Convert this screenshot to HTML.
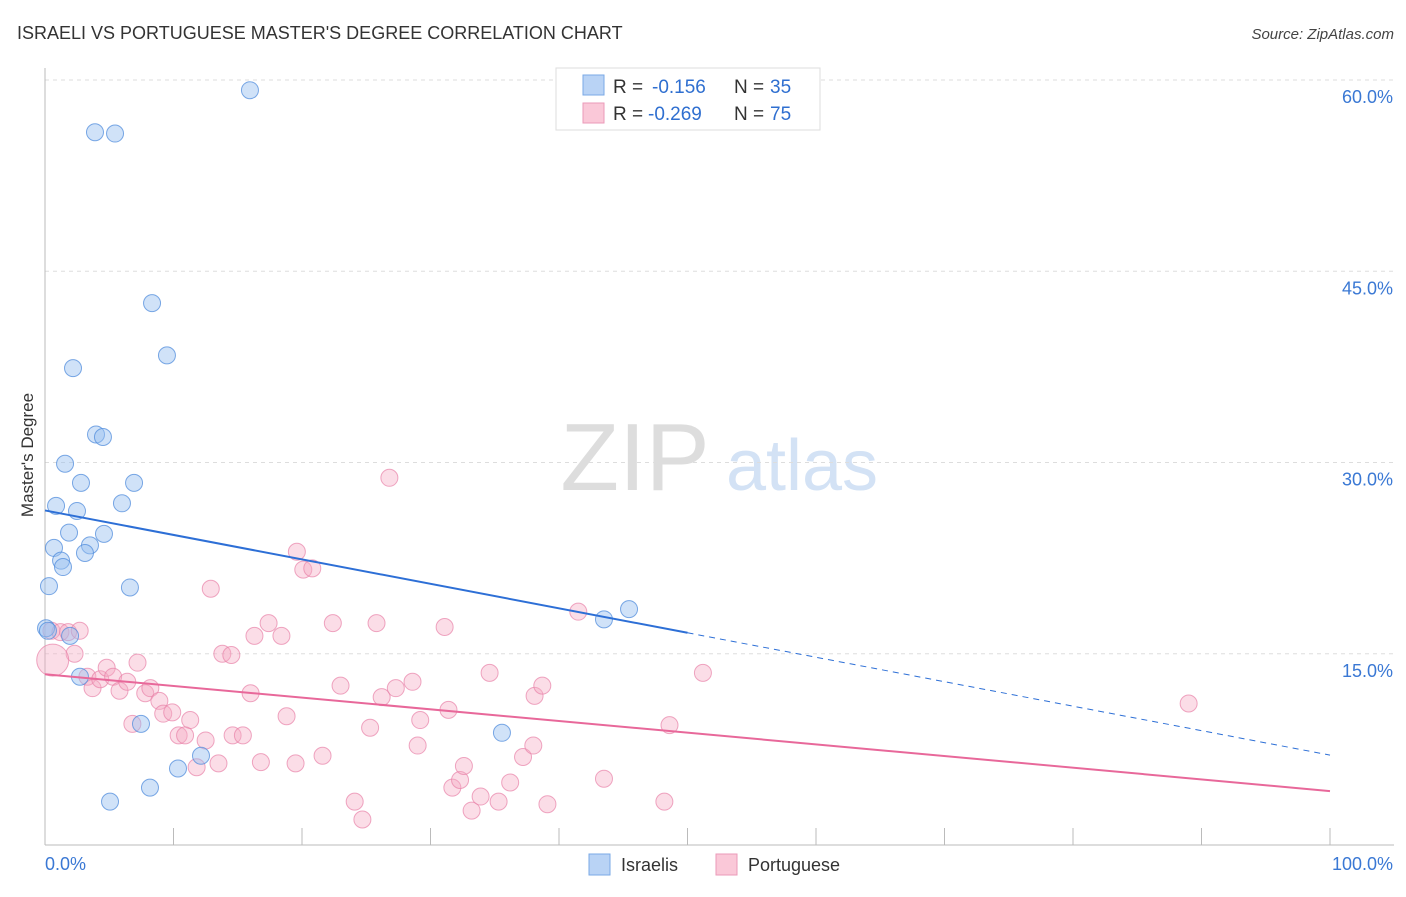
<!DOCTYPE html>
<html><head><meta charset="utf-8">
<style>
body{margin:0;background:#fff;font-family:"Liberation Sans",Arial,sans-serif;}
svg text{font-family:"Liberation Sans",Arial,sans-serif;}
</style></head>
<body>
<svg id="chart" width="1406" height="892" xmlns="http://www.w3.org/2000/svg">
<text x="17" y="39" font-size="18" fill="#333">ISRAELI VS PORTUGUESE MASTER'S DEGREE CORRELATION CHART</text>
<text x="1394" y="39" font-size="15" fill="#444" text-anchor="end" font-style="italic">Source: ZipAtlas.com</text>
<g>
<text x="635" y="490" font-size="96" fill="#ddd" text-anchor="middle" font-family="Liberation Serif, serif">ZIP</text>
<text x="802" y="490" font-size="72" fill="#d3e2f5" text-anchor="middle">atlas</text>
</g>
<g id="grid"></g>
<g id="axes"></g>
<g id="points"></g>
<g id="trends"></g>
<text x="0" y="0" transform="translate(33,455) rotate(-90)" font-size="17" fill="#333" text-anchor="middle">Master's Degree</text>
<g>
<rect x="556" y="68" width="264" height="62" fill="#fff" stroke="#ddd"/>
<rect x="583" y="75" width="21" height="20" fill="#b9d3f5" stroke="#7aa8e6"/>
<rect x="583" y="103" width="21" height="20" fill="#fac8d8" stroke="#eb9ab8"/>
<text x="613" y="93" font-size="19" fill="#333">R = </text><text x="652" y="93" font-size="19" fill="#2f6fd0">-0.156</text>
<text x="734" y="93" font-size="19" fill="#333">N = </text><text x="770" y="93" font-size="19" fill="#2f6fd0">35</text>
<text x="613" y="120" font-size="19" fill="#333">R = </text><text x="648" y="120" font-size="19" fill="#2f6fd0">-0.269</text>
<text x="734" y="120" font-size="19" fill="#333">N = </text><text x="770" y="120" font-size="19" fill="#2f6fd0">75</text>
</g>
<g>
<rect x="589" y="854" width="21" height="21" fill="#b9d3f5" stroke="#7aa8e6"/>
<text x="621" y="871" font-size="18" fill="#333">Israelis</text>
<rect x="716" y="854" width="21" height="21" fill="#fac8d8" stroke="#eb9ab8"/>
<text x="748" y="871" font-size="18" fill="#333">Portuguese</text>
</g>
</svg>
<script>
const yTicks=[15,30,45,60];
const yTickLabels=["15.0%","30.0%","45.0%","60.0%"];
const xEndLabels=["0.0%","100.0%"];
const israeliX=[15.95,3.89,5.45,8.33,9.49,2.18,3.97,4.51,1.56,2.80,6.93,0.86,2.49,5.99,1.87,4.59,0.70,3.50,3.11,1.25,1.40,0.31,6.61,0.08,1.95,2.72,7.47,5.06,8.17,10.35,12.14,35.56,43.50,45.45,0.23];
const israeliY=[59.2,55.9,55.8,42.5,38.4,37.4,32.2,32.0,29.9,28.4,28.4,26.6,26.2,26.8,24.5,24.4,23.3,23.5,22.9,22.3,21.8,20.3,20.2,17.0,16.4,13.2,9.5,3.4,4.5,6.0,7.0,8.8,17.7,18.5,16.8];
const portX=[12.9,0.5,1.2,1.8,2.3,0.6,3.3,3.7,4.3,4.8,5.3,5.8,6.4,7.2,7.8,8.2,8.9,9.2,9.9,11.3,6.8,10.4,10.9,12.5,11.8,13.5,14.6,15.4,13.8,14.5,16.3,17.4,18.4,16.0,18.8,16.8,19.5,21.6,22.4,23.0,19.6,20.1,20.8,26.8,25.8,31.1,24.1,24.7,25.3,26.2,27.3,28.6,29.2,29.0,31.4,31.7,32.3,32.6,33.2,33.9,34.6,35.3,36.2,37.2,38.0,38.1,38.7,39.1,41.5,43.5,48.2,48.6,51.2,89.0,2.7];
const portY=[20.1,16.8,16.7,16.7,15.0,14.5,13.2,12.3,13.0,13.9,13.2,12.1,12.8,14.3,11.9,12.3,11.3,10.3,10.4,9.8,9.5,8.6,8.6,8.2,6.1,6.4,8.6,8.6,15.0,14.9,16.4,17.4,16.4,11.9,10.1,6.5,6.4,7.0,17.4,12.5,23.0,21.6,21.7,28.8,17.4,17.1,3.4,2.0,9.2,11.6,12.3,12.8,9.8,7.8,10.6,4.5,5.1,6.2,2.7,3.8,13.5,3.4,4.9,6.9,7.8,11.7,12.5,3.2,18.3,5.2,3.4,9.4,13.5,11.1,16.8];
const israeliTrend=[26.24,7.05];
const portTrend=[13.39,4.23];
const israeliSolidEnd=50;

const X0=45,X1=1330,Y0=845,Y1=80;
const sx=v=>X0+(X1-X0)*v/100;
const sy=v=>Y0-(Y0-Y1)*v/60;
const NS="http://www.w3.org/2000/svg";
function mk(tag,attrs,parent){const e=document.createElementNS(NS,tag);for(const k in attrs)e.setAttribute(k,attrs[k]);parent.appendChild(e);return e;}
const grid=document.getElementById('grid'),axes=document.getElementById('axes'),pts=document.getElementById('points'),tr=document.getElementById('trends');
yTicks.forEach((t,i)=>{
 const l=mk('line',{x1:X0,x2:1394,y1:sy(t),y2:sy(t),stroke:'#ddd','stroke-dasharray':'4,4'},grid);
 
 
 const tx=mk('text',{x:1393,y:sy(t)+23,'font-size':18,fill:'#3a78d4','text-anchor':'end'},axes);
 tx.textContent=yTickLabels[i];
 
 
});
const ya=mk('line',{x1:X0,x2:X0,y1:68,y2:Y0,stroke:'#bbb'},axes);


const xa=mk('line',{x1:X0,x2:1394,y1:Y0,y2:Y0,stroke:'#bbb'},axes);


for(let i=0;i<=10;i++){
 const t=mk('line',{x1:sx(i*10),x2:sx(i*10),y1:Y0,y2:828,stroke:'#bbb'},axes);
 
 
}
const xl0=mk('text',{x:45,y:870,'font-size':18,fill:'#3a78d4'},axes);xl0.textContent=xEndLabels[0];


const xl1=mk('text',{x:1393,y:870,'font-size':18,fill:'#3a78d4','text-anchor':'end'},axes);xl1.textContent=xEndLabels[1];


portX.forEach((x,i)=>{
 const c=mk('circle',{cx:sx(x),cy:sy(portY[i]),r:i===5?16:8.5,fill:'rgba(246,170,196,0.4)',stroke:'rgba(232,130,168,0.7)','stroke-width':1},pts);
 
 
});
israeliX.forEach((x,i)=>{
 const c=mk('circle',{cx:sx(x),cy:sy(israeliY[i]),r:8.5,fill:'rgba(150,190,240,0.45)',stroke:'rgba(80,140,220,0.75)','stroke-width':1},pts);
 
 
});
const iy=x=>israeliTrend[0]+(israeliTrend[1]-israeliTrend[0])*x/100;
const l1=mk('line',{x1:sx(0),y1:sy(iy(0)),x2:sx(israeliSolidEnd),y2:sy(iy(israeliSolidEnd)),stroke:'#2d6fd6','stroke-width':2},tr);


const l2=mk('line',{x1:sx(israeliSolidEnd),y1:sy(iy(israeliSolidEnd)),x2:sx(100),y2:sy(iy(100)),stroke:'#2d6fd6','stroke-width':1,'stroke-dasharray':'6,5'},tr);


const l3=mk('line',{x1:sx(0),y1:sy(portTrend[0]),x2:sx(100),y2:sy(portTrend[1]),stroke:'#e8689a','stroke-width':2},tr);


</script>
</body></html>
